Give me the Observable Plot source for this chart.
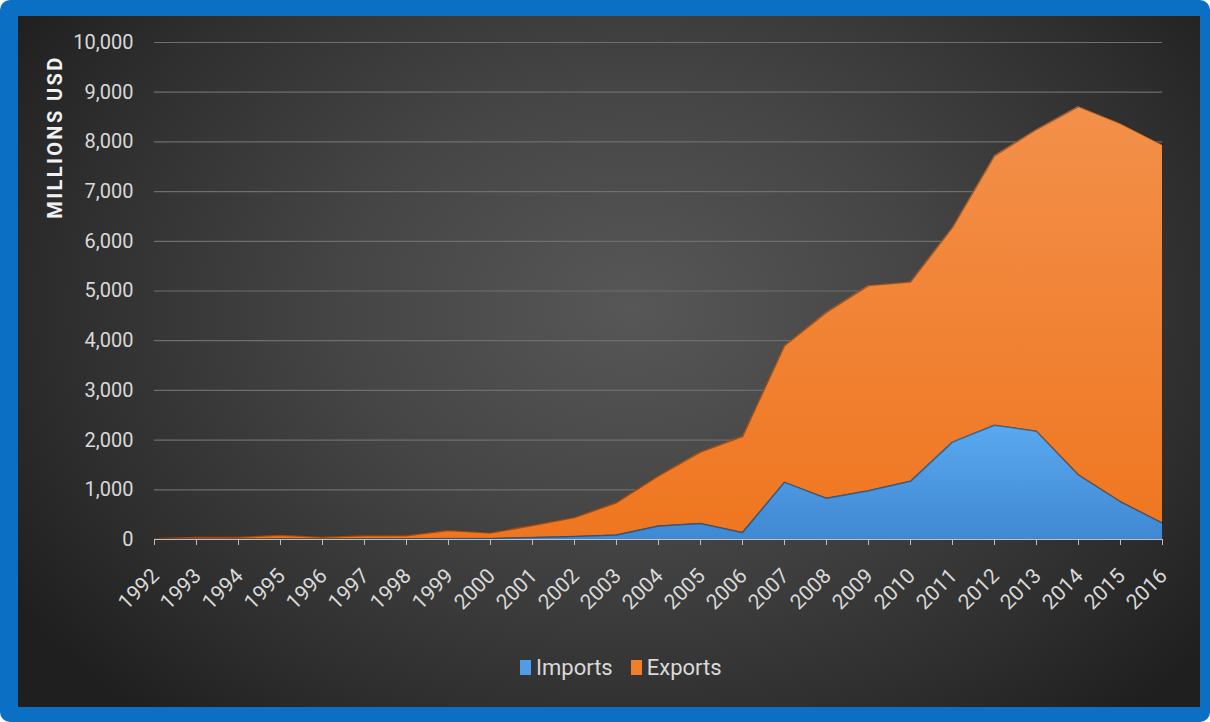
<!DOCTYPE html>
<html><head><meta charset="utf-8">
<script src="https://cdn.jsdelivr.net/npm/d3@7"></script>
<script src="https://cdn.jsdelivr.net/npm/@observablehq/plot@0.6"></script>
<style>
html,body{margin:0;padding:0;background:#fff;}
#frame{position:relative;width:1210px;height:722px;background:#0b6fc4;border-radius:10px;overflow:hidden;font-family:Roboto,"Open Sans",sans-serif;}
#panel{position:absolute;left:18px;top:16px;width:1182px;height:691px;background:radial-gradient(ellipse 62% 80% at 52% 42%, #575757 0%, #454545 40%, #2e2e2e 78%, #1f1f1f 100%);}
#chart{position:absolute;left:0;top:0;}
#ytitle{position:absolute;left:-45px;top:126px;width:200px;height:22px;line-height:22px;text-align:center;transform:rotate(-90deg);color:#f2f2f2;font-weight:bold;font-size:20px;letter-spacing:2.4px;}
#legend{position:absolute;left:520px;top:655px;display:flex;align-items:center;color:#d9d9d9;font-size:22px;}
#legend span.sw{display:inline-block;width:11px;height:15px;margin-right:5px;}
#legend span.lab{margin-right:18px;}
</style></head>
<body>
<div id="frame">
  <div id="panel"></div>
  <div id="chart"></div>
  <div id="ytitle">MILLIONS USD</div>
  <div id="legend"></div>
</div>
<script>
const years = [1992,1993,1994,1995,1996,1997,1998,1999,2000,2001,2002,2003,2004,2005,2006,2007,2008,2009,2010,2011,2012,2013,2014,2015,2016];
const imports = [5,10,10,15,10,15,15,20,20,40,60,90,270,320,140,1150,830,980,1170,1960,2300,2180,1300,760,330];
const exports = [15,35,35,70,35,60,60,160,110,240,380,650,1010,1440,1930,2750,3740,4130,4010,4320,5420,6070,7410,7610,7610];
const seriesNames = ["Imports","Exports"];
const seriesColors = ["url(#gBlue)","url(#gOrange)"];
const legendColors = ["#4f9de8","#f07f2c"];
const yTicks = [0,1000,2000,3000,4000,5000,6000,7000,8000,9000,10000];

const data = [];
years.forEach((yr,i)=>{
  data.push({year:yr, series:"Imports", value:imports[i]});
  data.push({year:yr, series:"Exports", value:exports[i]});
});

const font = "Roboto, 'Open Sans', sans-serif";
const plot = Plot.plot({
  width:1210, height:640,
  marginLeft:154, marginRight:48, marginTop:42, marginBottom:101,
  style:{background:"transparent", color:"#d9d9d9", fontFamily:font},
  x:{type:"linear", domain:[1992,2016]},
  y:{domain:[0,10000]},
  color:{domain:seriesNames, range:seriesColors},
  marks:[
    Plot.gridY(yTicks,{stroke:"#6e6e6e", strokeOpacity:1, strokeWidth:1.2}),
    Plot.areaY(data, Plot.stackY({x:"year", y:"value", z:"series", fill:"series", order:seriesNames})),
    Plot.lineY(data, Plot.stackY2({x:"year", y:"value", z:"series", order:seriesNames, stroke:"#000", strokeOpacity:0.35, strokeWidth:1.5})),
    Plot.ruleY([0],{stroke:"#bfbfbf", strokeWidth:1.2}),
    Plot.axisY(yTicks,{tickSize:0, tickPadding:21, tickFormat:d3.format(","), fontSize:20, fill:"#d9d9d9", label:null}),
    Plot.axisX(years,{tickSize:6, stroke:"#bfbfbf", label:null, text:null}),
    Plot.text(years,{x:d=>d, text:d=>String(d), frameAnchor:"bottom", rotate:-45, textAnchor:"end", lineAnchor:"middle", dx:1, dy:33, fontSize:21, fill:"#d9d9d9"})
  ]
});

const svg = d3.select(plot);
const defs = svg.insert("defs",":first-child");
const gb = defs.append("linearGradient").attr("id","gBlue").attr("x1",0).attr("y1",0).attr("x2",0).attr("y2",1);
gb.append("stop").attr("offset","0%").attr("stop-color","#5aa9f0");
gb.append("stop").attr("offset","100%").attr("stop-color","#3f88d2");
const go = defs.append("linearGradient").attr("id","gOrange").attr("x1",0).attr("y1",0).attr("x2",0).attr("y2",1);
go.append("stop").attr("offset","0%").attr("stop-color","#f3904a");
go.append("stop").attr("offset","100%").attr("stop-color","#ef7620");

document.getElementById("chart").appendChild(plot);

const lg = document.getElementById("legend");
seriesNames.forEach((n,i)=>{
  const sw=document.createElement("span"); sw.className="sw"; sw.style.background=legendColors[i];
  const lb=document.createElement("span"); lb.className="lab"; lb.textContent=n;
  lg.appendChild(sw); lg.appendChild(lb);
});
</script>
</body></html>
